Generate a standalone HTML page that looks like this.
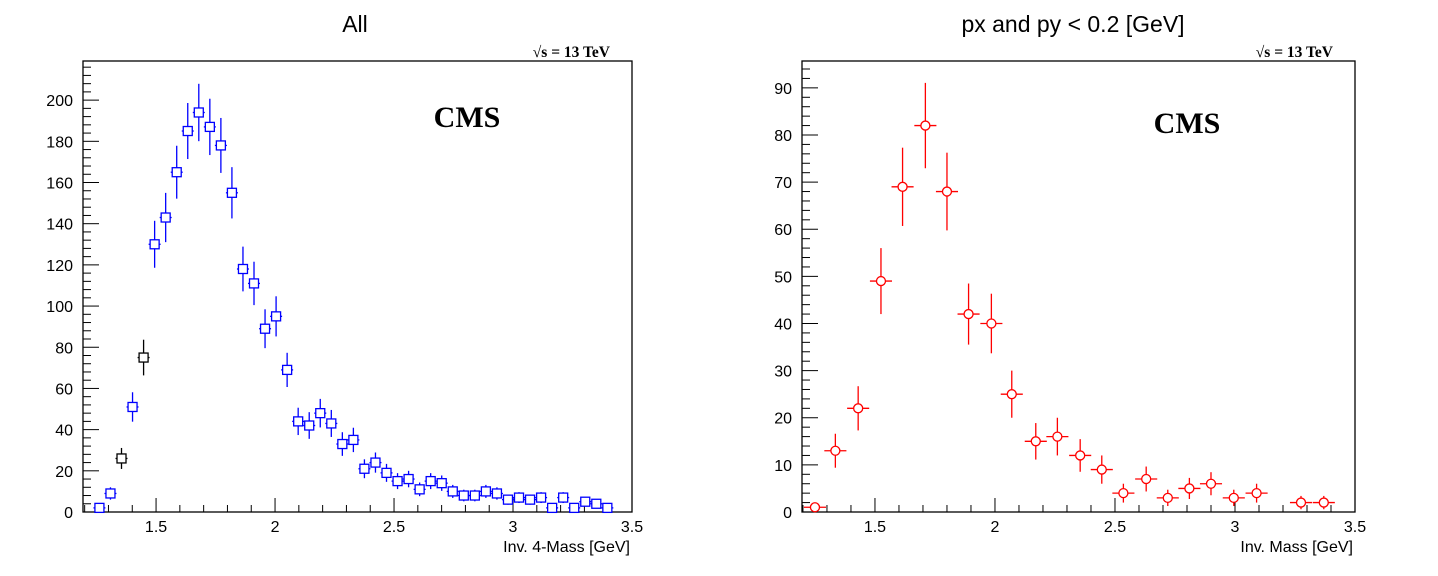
<!DOCTYPE html>
<html><head><meta charset="utf-8">
<style>
html,body{margin:0;padding:0;background:#fff;}
svg{display:block;}
text{font-family:"Liberation Sans",sans-serif;}
.ser{font-family:"Liberation Serif",serif;font-weight:bold;}
</style></head>
<body>
<svg id="chart" width="1438" height="576" xmlns="http://www.w3.org/2000/svg"></svg>
<script>
// Left panel data
const leftStart = 1.262, leftStep = 0.0464;
const leftValues = [2,9,26,51,75,130,143,165,185,194,187,178,155,118,111,89,95,69,44,42,48,43,33,35,21,24,19,15,16,11,15,14,10,8,8,10,9,6,7,6,7,2,7,2,5,4,2];
const leftBlack = [2,4];
const leftYTicks = [0,20,40,60,80,100,120,140,160,180,200];
const leftXTicks = [1.5,2,2.5,3,3.5];
// Right panel data
const rightCenters = [1.25,1.335,1.43,1.525,1.615,1.71,1.80,1.89,1.985,2.07,2.17,2.26,2.355,2.445,2.535,2.63,2.72,2.81,2.90,2.995,3.09,3.275,3.37];
const rightValues = [1,13,22,49,69,82,68,42,40,25,15,16,12,9,4,7,3,5,6,3,4,2,2];
const rightYTicks = [0,10,20,30,40,50,60,70,80,90];
const rightXTicks = [1.5,2,2.5,3,3.5];

const svg = document.getElementById('chart');
const NS = 'http://www.w3.org/2000/svg';
function mk(tag, attrs, parent){
  const e = document.createElementNS(NS, tag);
  for (const k in attrs) e.setAttribute(k, attrs[k]);
  (parent||svg).appendChild(e);
  return e;
}

function panel(cfg){
  const g = mk('g', {});
  
  
  const L=cfg.L,R=cfg.R,T=cfg.T,B=cfg.B;
  const sx = v => L + (v - cfg.x0) / (cfg.x1 - cfg.x0) * (R - L);
  const sy = v => B - (v - cfg.y0) / (cfg.y1 - cfg.y0) * (B - T);
  const frame = mk('rect', {x:L, y:T, width:R-L, height:B-T, fill:'none', stroke:'#000', 'stroke-width':1.3}, g);
  
  
  const yAxis = mk('g', {}, g);
  
  
  const ymajor = cfg.yTicks[1]-cfg.yTicks[0];
  const ymin = ymajor/cfg.yMinorN;
  for (let v=cfg.y0; v<=cfg.y1+1e-9; v+=ymin){
    const isMaj = Math.abs(v/ymajor - Math.round(v/ymajor))<1e-6;
    mk('line',{x1:L,x2:L+(isMaj?16:8),y1:sy(v),y2:sy(v),stroke:'#000','stroke-width':1},yAxis);
  }
  cfg.yTicks.forEach(v=>{
    const t = mk('text',{x:L-10,y:sy(v)+6,'text-anchor':'end','font-size':16,fill:'#000'},yAxis);
    t.textContent = v;
    
    
  });
  const xAxis = mk('g', {}, g);
  
  
  for (let i=Math.ceil(cfg.x0/0.1); i*0.1<=cfg.x1+1e-9; i++){
    const v=i*0.1; const isMaj = i%5===0;
    mk('line',{x1:sx(v),x2:sx(v),y1:B,y2:B-(isMaj?14:7),stroke:'#000','stroke-width':1},xAxis);
  }
  cfg.xTicks.forEach(v=>{
    const t = mk('text',{x:sx(v),y:B+20,'text-anchor':'middle','font-size':16,fill:'#000'},xAxis);
    t.textContent = v;
    
    
  });
  const xt = mk('text',{x:R-2,y:B+40,'text-anchor':'end','font-size':16,fill:'#000'},g);
  xt.textContent = cfg.xTitle;
  
  
  const tt = mk('text',{x:cfg.titleX,y:32,'text-anchor':'middle','font-size':23,fill:'#000'},g);
  tt.textContent = cfg.title;
  
  
  const sq = mk('text',{x:R-22,y:57,'text-anchor':'end','font-size':15.5,fill:'#000','class':'ser'},g);
  sq.textContent = '\u221As = 13 TeV';
  
  
  const cms = mk('text',{x:cfg.cmsX,y:cfg.cmsY,'text-anchor':'middle','font-size':30,fill:'#000','class':'ser'},g);
  cms.textContent = 'CMS';
  
  
  const pts = mk('g', {}, g);
  
  
  cfg.xs.forEach((xv,i)=>{
    const v = cfg.vals[i];
    const err = Math.sqrt(v);
    const cx = sx(xv), cy = sy(v);
    const col = cfg.colorAt(i);
    const p = mk('g', {}, pts);
    
    
    mk('line',{x1:cx,x2:cx,y1:sy(v+err),y2:Math.min(B,sy(v-err)),stroke:col,'stroke-width':1.3},p);
    const hw = cfg.xErr ? (R-L)/(cfg.x1-cfg.x0)*cfg.xErr : 6;
    mk('line',{x1:cx-hw,x2:cx+hw,y1:cy,y2:cy,stroke:col,'stroke-width':1.3},p);
    if (cfg.marker==='square'){
      mk('rect',{x:cx-4.5,y:cy-4.5,width:9,height:9,fill:'#fff',stroke:col,'stroke-width':1.3},p);
    } else {
      mk('circle',{cx:cx,cy:cy,r:4.5,fill:'#fff',stroke:col,'stroke-width':1.3},p);
    }
  });
}

panel({name:'left-panel',L:83,R:632,T:61,B:512,x0:1.193,x1:3.5,y0:0,y1:219,
  yTicks:leftYTicks,yMinorN:5,xTicks:leftXTicks,xTitle:'Inv. 4-Mass [GeV]',title:'All',titleX:355,
  cmsX:467,cmsY:127,xs:leftValues.map((v,i)=>leftStart+i*leftStep),vals:leftValues,
  colorAt:i=>leftBlack.includes(i)?'#000':'#0000ff',marker:'square',xErr:0});
panel({name:'right-panel',L:802,R:1355,T:61,B:512,x0:1.196,x1:3.5,y0:0,y1:95.7,
  yTicks:rightYTicks,yMinorN:5,xTicks:rightXTicks,xTitle:'Inv. Mass [GeV]',title:'px and py < 0.2 [GeV]',titleX:1073,
  cmsX:1187,cmsY:133,xs:rightCenters,vals:rightValues,
  colorAt:i=>'#ff0000',marker:'circle',xErr:0.046});
</script>
</body></html>
